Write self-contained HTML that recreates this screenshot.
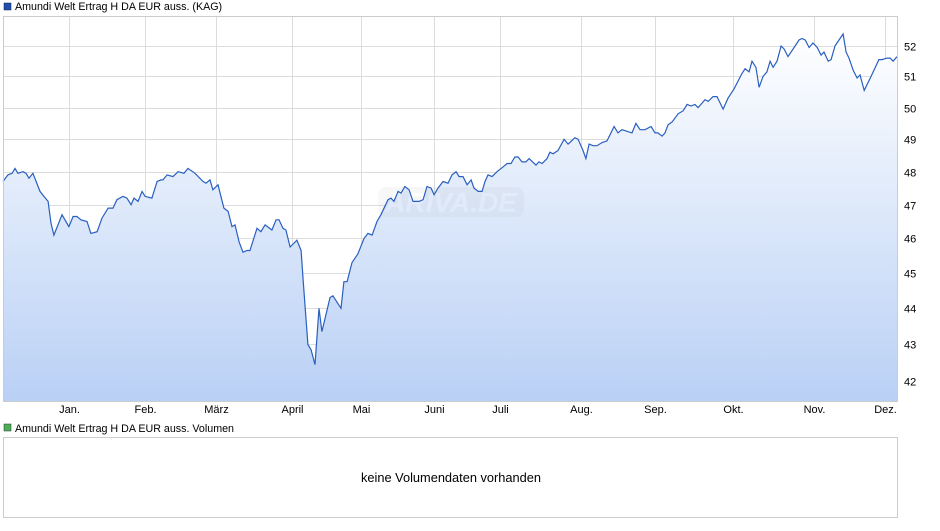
<!DOCTYPE html>
<html><head><meta charset="utf-8"><style>
body{margin:0;background:#fff;width:940px;height:526px;overflow:hidden;font-family:"Liberation Sans",Arial,sans-serif}
svg text{font-family:"Liberation Sans",Arial,sans-serif}
</style></head><body>
<svg id="c" width="940" height="526">
<defs><linearGradient id="g" x1="0" y1="0" x2="0" y2="1"><stop offset="0" stop-color="#ffffff"/><stop offset="1" stop-color="#b9d0f5"/></linearGradient></defs>
<rect x="4" y="3" width="7" height="7" fill="#1f4fb0" stroke="#123" stroke-width="0.5"/>
<text x="15" y="10" font-size="10.7" fill="#000">Amundi Welt Ertrag H DA EUR auss. (KAG)</text>
<g id="grid"></g>
<path id="area" fill="url(#g)"/>
<g opacity="0.06"><rect x="378" y="187" width="146" height="30" rx="8" fill="#888"/><text x="451" y="212" font-size="28" font-style="italic" font-weight="bold" fill="#fff" text-anchor="middle">ARIVA.DE</text></g>
<path id="line" fill="none" stroke="#2a5fc1" stroke-width="1.2"/>
<rect x="3.5" y="16.5" width="894" height="385" fill="none" stroke="#ccc"/>
<g id="xl"></g><g id="yl"></g>
<rect x="4" y="424" width="7" height="7" fill="#4caf50" stroke="#234" stroke-width="0.5"/>
<text x="15" y="432" font-size="10.7" fill="#000">Amundi Welt Ertrag H DA EUR auss. Volumen</text>
<rect x="3.5" y="437.5" width="894" height="80" fill="#fff" stroke="#ccc"/>
<text x="451" y="482" font-size="12.8" fill="#000" text-anchor="middle">keine Volumendaten vorhanden</text>
</svg>
<script>
const days=[0,2,3.7,4.9,6.1,8.2,9.4,10.6,12.2,15.1,16.7,18.4,19.6,20.8,24.1,26.9,28.6,30.2,31.8,34.3,35.9,38.4,40.4,42.9,44.9,46.5,49,50.6,52.3,53.5,55.1,56.8,58,60.8,62.9,64.5,65.3,67,69.4,71.5,73.9,75.5,78.4,81.7,82.9,84.5,85.7,87.8,90.2,91.9,93.5,94.7,96.4,98,99.6,100.8,103.7,105.3,107,109.8,111.5,112.7,114.3,115.5,117.2,120,121.7,122.5,124.5,125.8,127.4,129,130.2,133.5,134.7,138,139.2,140.5,142.5,144.9,147.4,149,150.7,152.7,154.3,157.2,158.4,159.6,161.3,162.5,164.1,165.8,167.4,169.9,171.5,173.1,174.8,176,177.6,179.7,181.7,183.3,185,186.2,187.8,189.5,191.1,192.3,194,195.6,196.8,198,199.7,201.7,204.2,205.8,207.4,209,210.3,211.9,213.5,214.8,217.6,218.8,220.1,222.1,223.3,224.6,226.6,229.1,230.7,233.5,234.8,236.8,238,239.3,240.9,242.5,244.6,246.6,249.5,251.1,252.7,256.8,258.4,260.1,262.1,264.6,266.2,267.4,269.1,270.3,271.5,273.2,275.6,277.7,279.3,280.9,282.5,283.8,286.6,287.9,289.9,291.5,294,296,298.5,301.7,303,304.6,305.8,307.4,308.7,310.3,311.9,313.2,314.4,316,317.7,318.9,320.5,323.4,325,326.2,327.5,329.1,330.7,332.4,334,335.2,336.9,338.1,339.7,340.9,343,344.2,345.4,347.1,348.7,349.9,351.6,354.4,357.6,358.9,360.9,362.2,363.4,365];
const prices=[47.7,47.9,47.95,48.1,47.95,48.0,47.95,47.8,47.95,47.4,47.25,47.1,46.45,46.1,46.7,46.35,46.65,46.65,46.55,46.5,46.15,46.2,46.6,46.9,46.9,47.15,47.25,47.2,47.0,47.2,47.1,47.4,47.25,47.2,47.7,47.75,47.75,47.9,47.85,48.0,47.95,48.1,47.95,47.7,47.65,47.75,47.45,47.6,46.9,46.8,46.35,46.4,45.9,45.6,45.65,45.65,46.3,46.2,46.4,46.25,46.55,46.55,46.3,46.25,45.75,45.95,45.65,44.85,43.0,42.85,42.45,44.0,43.35,44.3,44.35,44.0,44.75,44.75,45.3,45.55,46.0,46.15,46.1,46.5,46.7,47.15,47.2,47.1,47.4,47.35,47.55,47.45,47.1,47.1,47.15,47.55,47.5,47.3,47.5,47.7,47.65,47.9,48.0,47.85,47.85,47.6,47.75,47.5,47.4,47.4,47.7,47.9,47.85,48.0,48.15,48.25,48.25,48.45,48.45,48.3,48.3,48.4,48.2,48.3,48.25,48.4,48.6,48.55,48.65,49.0,48.85,49.05,49.0,48.65,48.4,48.85,48.8,48.8,48.9,48.95,49.4,49.2,49.3,49.2,49.5,49.3,49.3,49.4,49.2,49.2,49.1,49.2,49.45,49.55,49.8,49.9,50.1,50.05,50.1,50.0,50.25,50.2,50.35,50.35,49.95,50.3,50.6,51.1,51.25,51.15,51.5,51.3,50.65,51.0,51.15,51.5,51.3,51.5,52.0,51.9,51.65,52.0,52.2,52.25,52.2,51.95,52.1,51.95,51.7,51.8,51.5,51.55,52.0,52.15,52.4,51.8,51.6,51.2,50.95,51.05,50.55,51.0,51.55,51.55,51.6,51.6,51.5,51.65];
const monthLabels=["Jan.","Feb.","März","April","Mai","Juni","Juli","Aug.","Sep.","Okt.","Nov.","Dez."];
const monthDays=[27,58,87,118,146,176,203,236,266,298,331,360];
const yTicks=[42,43,44,45,46,47,48,49,50,51,52];
const NS="http://www.w3.org/2000/svg";
const X0=3,X1=897,D1=365,TOP=16,BOT=401;
const xs=d=>X0+d/D1*(X1-X0);
const ys=v=>46+Math.log(52/v)*1570;
const grid=document.getElementById('grid'),xl=document.getElementById('xl'),yl=document.getElementById('yl');
function mk(tag,attrs,parent){const e=document.createElementNS(NS,tag);for(const k in attrs)e.setAttribute(k,attrs[k]);parent.appendChild(e);return e;}
yTicks.forEach(v=>{const y=Math.round(ys(v))+0.5;
 const l=mk('line',{x1:3,x2:898,y1:y,y2:y,stroke:'#dcdcdc'},grid);
 
 
 const t=mk('text',{x:904,y:y+4,'font-size':11,fill:'#000'},yl);t.textContent=v;
 
 
});
monthDays.forEach((d,i)=>{const x=Math.round(xs(d))+0.5;
 const l=mk('line',{x1:x,x2:x,y1:TOP,y2:BOT,stroke:'#dcdcdc'},grid);
 
 
 const t=mk('text',{x:x,y:413,'font-size':11,fill:'#000','text-anchor':'middle'},xl);t.textContent=monthLabels[i];
 
 
});
let p='';days.forEach((d,i)=>{p+=(i?'L':'M')+xs(d).toFixed(1)+','+ys(prices[i]).toFixed(1);});
document.getElementById('line').setAttribute('d',p);
document.getElementById('area').setAttribute('d',p+'L'+xs(days[days.length-1]).toFixed(1)+','+BOT+'L'+xs(days[0]).toFixed(1)+','+BOT+'Z');
</script>
</body></html>
